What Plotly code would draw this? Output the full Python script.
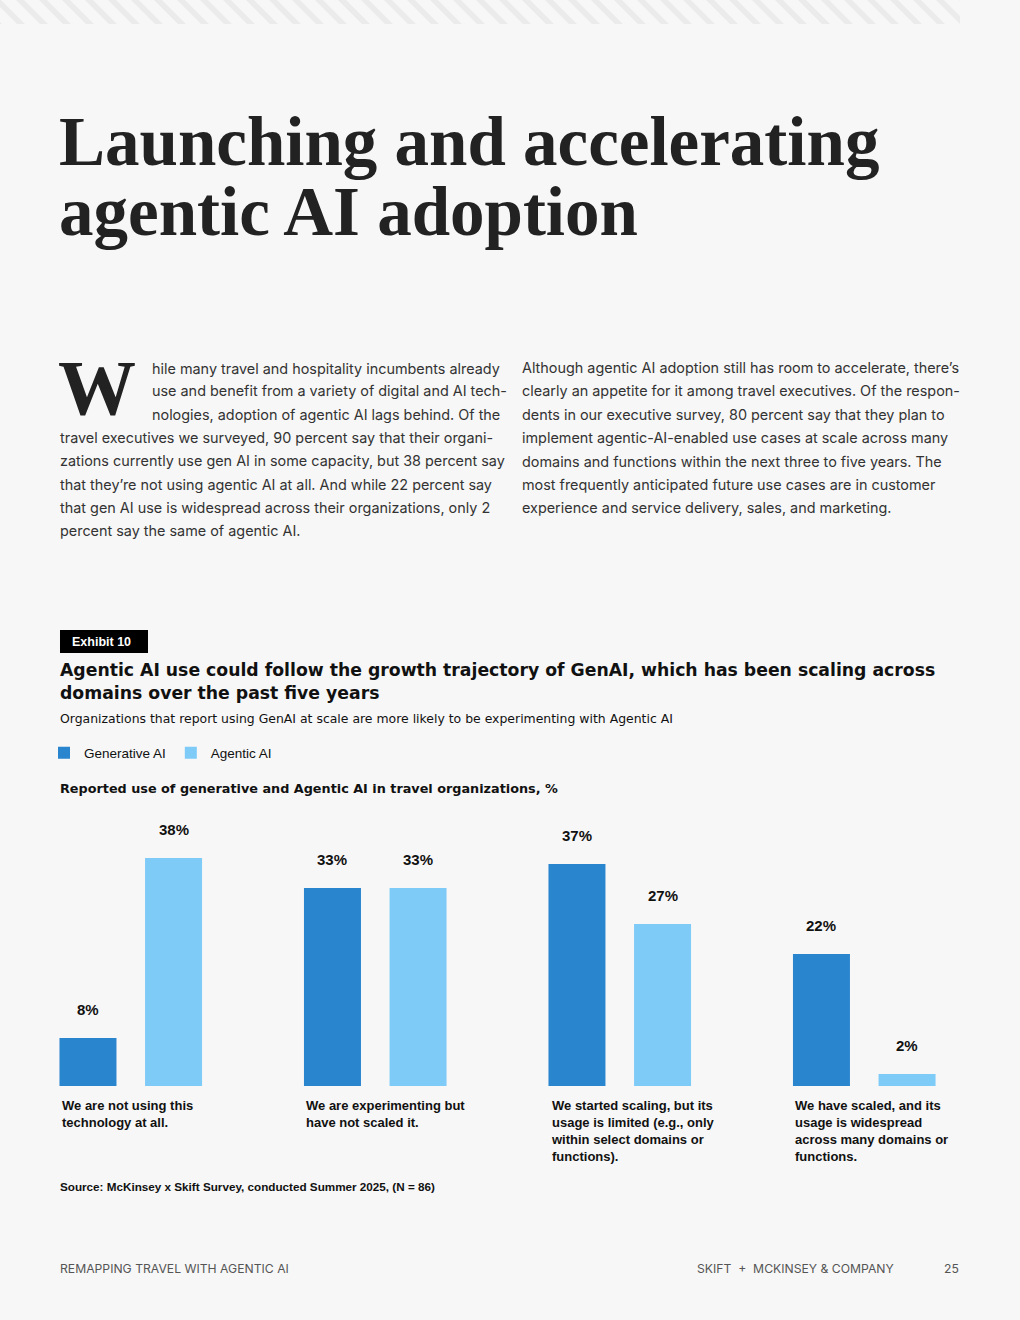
import plotly.graph_objects as go

# Page size (px) - everything outside the bars is placed in paper coords
W, H = 1020, 1320

categories = ["Not using", "Experimenting", "Scaled, limited", "Scaled, widespread"]
category_labels = [
    "We are not using this<br>technology at all.",
    "We are experimenting but<br>have not scaled it.",
    "We started scaling, but its<br>usage is limited (e.g., only<br>within select domains or<br>functions).",
    "We have scaled, and its<br>usage is widespread<br>across many domains or<br>functions.",
]
generative_ai = [8, 33, 37, 22]
agentic_ai = [38, 33, 27, 2]

title_lines = ["Launching and accelerating", "agentic AI adoption"]
chart_title = [
    "Agentic AI use could follow the growth trajectory of GenAI, which has been scaling across",
    "domains over the past five years",
]

left_col = [
    "hile many travel and hospitality incumbents already",
    "use and benefit from a variety of digital and AI tech-",
    "nologies, adoption of agentic AI lags behind. Of the",
    "travel executives we surveyed, 90 percent say that their organi-",
    "zations currently use gen AI in some capacity, but 38 percent say",
    "that they\u2019re not using agentic AI at all. And while 22 percent say",
    "that gen AI use is widespread across their organizations, only 2",
    "percent say the same of agentic AI.",
]
right_col = [
    "Although agentic AI adoption still has room to accelerate, there\u2019s",
    "clearly an appetite for it among travel executives. Of the respon-",
    "dents in our executive survey, 80 percent say that they plan to",
    "implement agentic-AI-enabled use cases at scale across many",
    "domains and functions within the next three to five years. The",
    "most frequently anticipated future use cases are in customer",
    "experience and service delivery, sales, and marketing.",
]

BG = "#f7f7f7"
DARK = "#2a85cf"
LIGHT = "#7fcbf8"
INK = "#111111"
SERIF = "Liberation Serif"
SANS = "Liberation Sans"
WIDE = "DejaVu Sans"
BODY = "Inter"


def px(x):
    return x / W


def py(y):
    return 1 - y / H


fig = go.Figure()
fig.add_trace(go.Bar(x=categories, y=generative_ai, name="Generative AI",
                     marker=dict(color=DARK, line=dict(width=0)), hoverinfo="skip"))
fig.add_trace(go.Bar(x=categories, y=agentic_ai, name="Agentic AI",
                     marker=dict(color=LIGHT, line=dict(width=0)), hoverinfo="skip"))

ann = []

# page title
for i, line in enumerate(title_lines):
    ann.append(dict(text=line, x=px(57), y=py(142 + i * 70), xanchor="left", yanchor="middle",
                    font=dict(family=SERIF, size=69, color="#222222", weight="bold")))

# drop cap + body columns
ann.append(dict(text="W", x=px(56), y=py(387), xanchor="left", yanchor="middle",
                font=dict(family=SERIF, size=78, color="#222222", weight="bold")))
for i, line in enumerate(left_col):
    ann.append(dict(text=line, x=px(150 if i < 3 else 58), y=py(368 + i * 23.3),
                    xanchor="left", yanchor="middle",
                    font=dict(family=BODY, size=14.4, color="#333333")))
for i, line in enumerate(right_col):
    ann.append(dict(text=line, x=px(520), y=py(368 + i * 23.3),
                    xanchor="left", yanchor="middle",
                    font=dict(family=BODY, size=14.4, color="#333333")))

# exhibit header
ann.append(dict(text="Exhibit 10", x=px(70), y=py(641.5), xanchor="left", yanchor="middle",
                font=dict(family=SANS, size=12.5, color="white", weight="bold")))
for i, line in enumerate(chart_title):
    ann.append(dict(text=line, x=px(58), y=py(670 + i * 23), xanchor="left", yanchor="middle",
                    font=dict(family=WIDE, size=17.25, color=INK, weight="bold")))
ann.append(dict(text="Organizations that report using GenAI at scale are more likely to be experimenting with Agentic AI",
                x=px(58), y=py(718), xanchor="left", yanchor="middle",
                font=dict(family=WIDE, size=12.45, color=INK)))
ann.append(dict(text="Reported use of generative and Agentic AI in travel organizations, %",
                x=px(58), y=py(788), xanchor="left", yanchor="middle",
                font=dict(family=WIDE, size=12.8, color=INK, weight="bold")))

# value labels above bars, category labels below
for i in range(len(categories)):
    for off, vals in ((-0.175, generative_ai), (0.175, agentic_ai)):
        ann.append(dict(text=f"{vals[i]}%", x=i + off, y=vals[i], xref="x", yref="y",
                        xanchor="center", yanchor="middle", yshift=29, showarrow=False,
                        font=dict(family=SANS, size=15, color=INK, weight="bold")))
    ann.append(dict(text=category_labels[i], x=i - 0.2914, y=0, xref="x", yref="y",
                    xanchor="left", yanchor="top", yshift=-10, align="left", showarrow=False,
                    font=dict(family=SANS, size=13, color=INK, weight="bold")))

ann.append(dict(text="Source: McKinsey x Skift Survey, conducted Summer 2025, (N = 86)",
                x=px(58), y=py(1186), xanchor="left", yanchor="middle",
                font=dict(family=SANS, size=11.7, color=INK, weight="bold")))

# footer
ann.append(dict(text="REMAPPING TRAVEL WITH AGENTIC AI", x=px(58), y=py(1268), xanchor="left",
                yanchor="middle", font=dict(family=BODY, size=12.2, color="#555555")))
ann.append(dict(text="SKIFT  +  MCKINSEY &amp; COMPANY", x=px(896), y=py(1268), xanchor="right",
                yanchor="middle", font=dict(family=BODY, size=12.2, color="#555555")))
ann.append(dict(text="25", x=px(961), y=py(1268), xanchor="right",
                yanchor="middle", font=dict(family=BODY, size=12.2, color="#555555")))

for a in ann:
    a.setdefault("xref", "paper")
    a.setdefault("yref", "paper")
    a.setdefault("showarrow", False)

# diagonal stripes at the top of the page
stripe_path = ""
for x0 in range(-30, 960, 23):
    pts = [(x0, 0), (x0 + 8, 0), (x0 + 32, 24), (x0 + 24, 24)]
    stripe_path += "M" + "L".join(f"{px(a):.5f},{py(b):.5f}" for a, b in pts) + "Z"

shapes = [
    dict(type="path", path=stripe_path, xref="paper", yref="paper",
         fillcolor="#ebebeb", line=dict(width=0), layer="below"),
    dict(type="rect", xref="paper", yref="paper", x0=px(960), x1=1, y0=py(26), y1=1,
         fillcolor=BG, line=dict(width=0), layer="below"),
    dict(type="rect", xref="paper", yref="paper", x0=px(60), x1=px(148), y0=py(653), y1=py(630),
         fillcolor="#000000", line=dict(width=0)),
]

fig.update_layout(
    width=W, height=H,
    margin=dict(l=0, r=0, t=0, b=0),
    paper_bgcolor=BG, plot_bgcolor=BG,
    barmode="group", bargap=0.30, bargroupgap=0.334,
    showlegend=True,
    legend=dict(orientation="h", x=px(44), y=py(753), xanchor="left", yanchor="middle",
                bgcolor="rgba(0,0,0,0)", font=dict(family=SANS, size=13.5, color=INK),
                traceorder="normal"),
    xaxis=dict(domain=[0, 1], range=[-0.5348, 3.637], showticklabels=False,
               showgrid=False, zeroline=False, showline=False, fixedrange=True),
    yaxis=dict(domain=[py(1086), py(810)], range=[0, 46], showticklabels=False,
               showgrid=False, zeroline=False, showline=False, fixedrange=True),
    annotations=ann,
    shapes=shapes,
)

fig.write_html("out.html", config={"displayModeBar": False},
               post_script="document.body.style.margin='0';")
